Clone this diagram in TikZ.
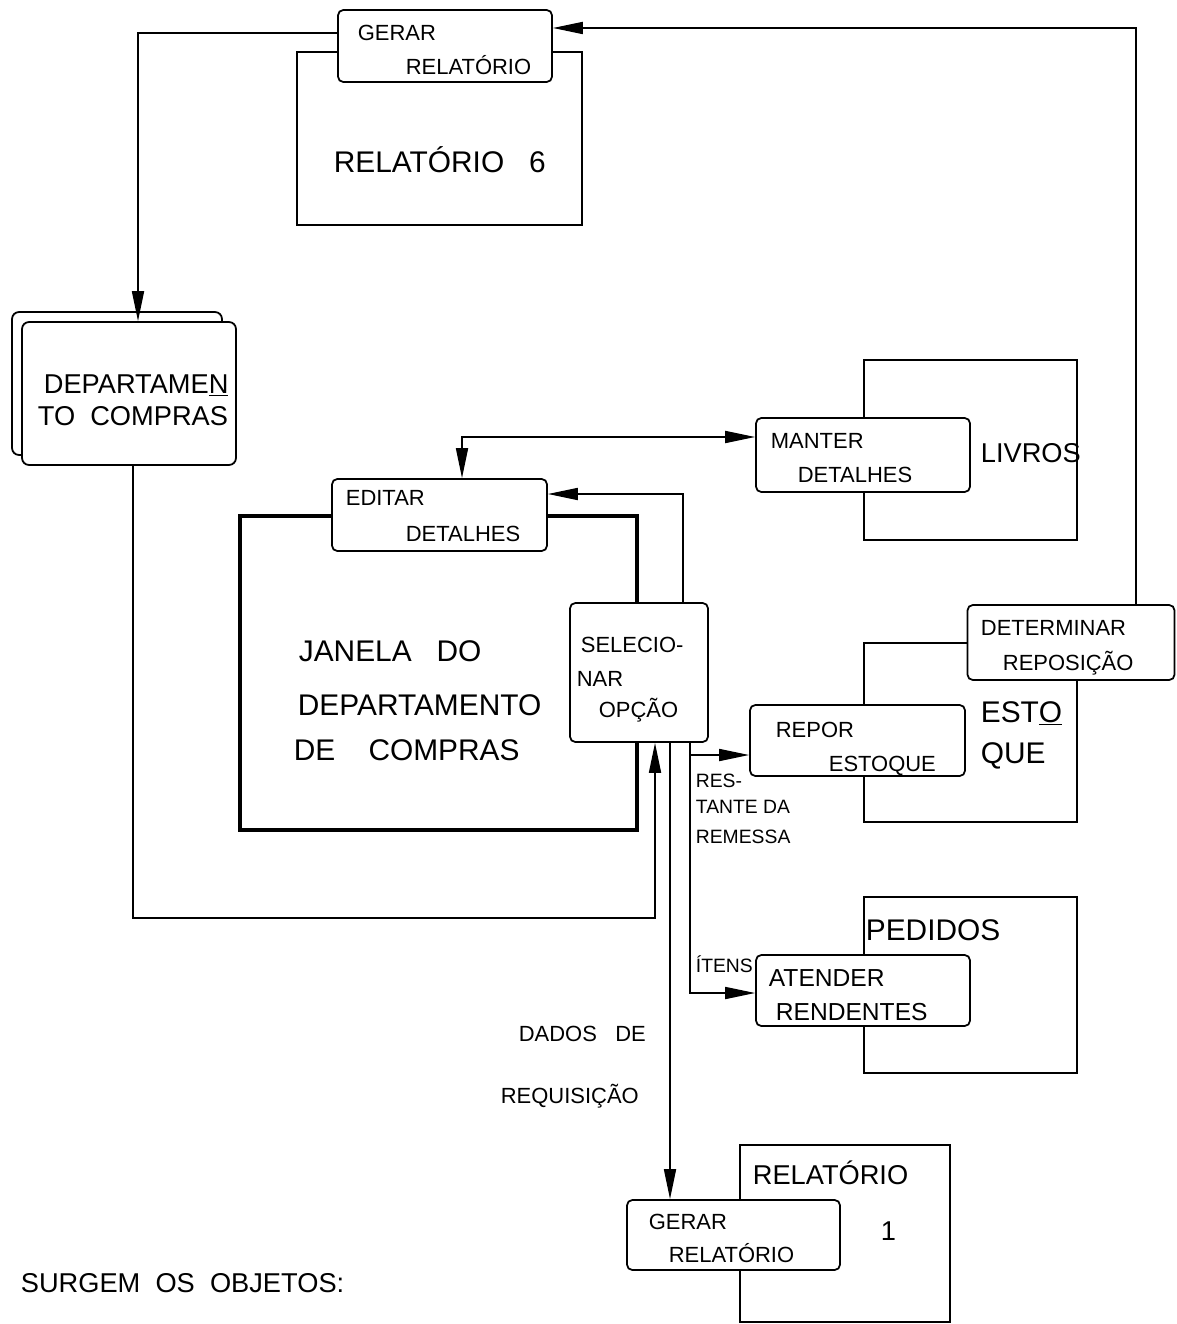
\documentclass[tikz,border=0pt]{standalone}
\usepackage{fontspec}
\setmainfont{Liberation Sans}
\usetikzlibrary{arrows.meta}

\begin{document}
\begin{tikzpicture}[x=0.02cm, y=-0.02cm, line width=1pt, >={Triangle[length=6mm,width=2.4mm]},
  store/.style={draw, minimum width=4.26cm, inner sep=0pt},
  proc/.style={draw, rounded corners=3pt, fill=white, minimum width=4.28cm, minimum height=1.44cm, inner sep=0pt},
  big/.style={anchor=base west, inner sep=0pt, font=\fontsize{17}{20}\selectfont},
  mid/.style={anchor=base west, inner sep=0pt, font=\fontsize{15.5}{18}\selectfont},
  hand/.style={anchor=base west, inner sep=0pt, font=\fontsize{12.5}{15}\selectfont},
  tiny/.style={anchor=base west, inner sep=0pt, font=\fontsize{11}{13}\selectfont}]
\useasboundingbox (0,0) rectangle (1176,1324);
% data stores
\node[store, minimum width=5.7cm, minimum height=3.46cm] (rel6) at (439.5,138.5) {};
\node[store, minimum height=3.6cm] (livros) at (970.5,450) {};
\node[store, minimum height=3.58cm] (estoque) at (970.5,732.5) {};
\node[store, minimum height=3.52cm] (pedidos) at (970.5,985) {};
\node[store, minimum width=4.2cm, minimum height=3.54cm] (rel1) at (845,1233.5) {};
\node[store, line width=1.8pt, minimum width=7.94cm, minimum height=6.28cm] (janela) at (438.5,673) {};
% departamento
\node[proc, rounded corners=4pt, minimum width=4.2cm, minimum height=2.86cm] (deptB) at (117,383.5) {};
\node[proc, rounded corners=4pt, minimum width=4.28cm, minimum height=2.86cm] (dept) at (129,393.5) {};
% processes
\node[proc] (gerarTop) at (445,46) {};
\node[proc, minimum height=1.48cm] (manter) at (863,455) {};
\node[proc, minimum width=4.3cm] (editar) at (439.5,515) {};
\node[proc, minimum width=2.76cm, minimum height=2.78cm] (selec) at (639,672.5) {};
\node[proc, minimum width=4.14cm, minimum height=1.5cm] (determ) at (1071,642.5) {};
\node[proc, minimum width=4.3cm, minimum height=1.42cm] (repor) at (857.5,740.5) {};
\node[proc, minimum height=1.42cm] (atender) at (863,990.5) {};
\node[proc, minimum width=4.26cm, minimum height=1.4cm] (gerarBot) at (733.5,1235) {};
% flows
\draw[->] (gerarTop.west |- 0,33) -| (138,0 |- dept.north);
\draw[->] (determ.north -| 1136,0) |- (gerarTop.east |- 0,28);
\draw[->] (dept.south -| 133,0) |- (655,918) -- (selec.south -| 655,0);
\draw[<->] (editar.north -| 462,0) |- (manter.west |- 0,437);
\draw[->] (selec.north -| 683,0) |- (editar.east |- 0,494);
\draw[->] (selec.south -| 690,0) |- (atender.west |- 0,993);
\coordinate (split) at (690,755);
\draw[->] (split) -- (repor.west |- split);
\draw[->] (selec.south -| 670,0) -- (gerarBot.north -| 670,0);
% texts
\node[hand] (t1) at (357,41) {GERAR};
\node[hand] (t2) at (405,75) {RELATÓRIO};
\node[big] (t3) at (333,173) {RELATÓRIO\ \ \ 6};
\node[mid] (t4) at (43,393) {DEPARTAME\underline{N}};
\node[mid] (t5) at (37,425) {TO\ \ COMPRAS};
\node[mid] (t6) at (980,462) {LIVROS};
\node[hand] (t7) at (770,448) {MANTER};
\node[hand] (t8) at (797,482) {DETALHES};
\node[hand] (t9) at (345,505) {EDITAR};
\node[hand] (t10) at (405,541) {DETALHES};
\node[big] (t11) at (298,661) {JANELA\ \ \ DO};
\node[big] (t12) at (297,715) {DEPARTAMENTO};
\node[big] (t13) at (293,760) {DE\ \ \ \ COMPRAS};
\node[hand] (t14) at (580,652) {SELECIO-};
\node[hand] (t15) at (576,686) {NAR};
\node[hand] (t16) at (598,717) {OPÇÃO};
\node[hand] (t17) at (980,635) {DETERMINAR};
\node[hand] (t18) at (1002,670) {REPOSIÇÃO};
\node[hand] (t19) at (775,737) {REPOR};
\node[hand] (t20) at (828,771) {ESTOQUE};
\node[big] (t21) at (980,722) {EST\underline{O}};
\node[big] (t22) at (980,763) {QUE};
\node[tiny] (t23) at (695,787) {RES-};
\node[tiny] (t24) at (695,813) {TANTE DA};
\node[tiny] (t25) at (695,843) {REMESSA};
\node[big] (t26) at (865,940) {PEDIDOS};
\node[tiny] (t27) at (695,972) {ÍTENS};
\node[hand, font=\fontsize{14}{16}\selectfont] (t28) at (768,986) {ATENDER};
\node[hand, font=\fontsize{14}{16}\selectfont] (t29) at (775,1020) {RENDENTES};
\node[hand] (t30) at (518,1041) {DADOS\ \ \ DE};
\node[hand] (t31) at (500,1103) {REQUISIÇÃO};
\node[mid] (t32) at (752,1184) {RELATÓRIO};
\node[mid] (t33) at (880,1240) {1};
\node[hand] (t34) at (648,1229) {GERAR};
\node[hand] (t35) at (668,1262) {RELATÓRIO};
\node[mid] (t36) at (20,1292) {SURGEM\ \ OS\ \ OBJETOS:};
\end{tikzpicture}
\end{document}
